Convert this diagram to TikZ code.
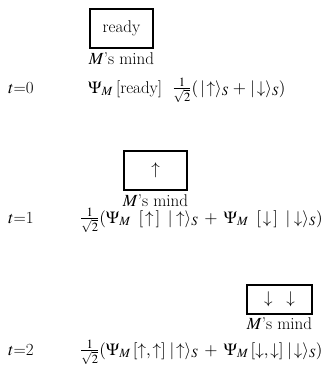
\documentclass[tikz,border=0pt]{standalone}
\usepackage{amsmath}
\usepackage{mathptmx}
\usepackage{tikz}
\usetikzlibrary{positioning}

\begin{document}
\begin{tikzpicture}[x=1pt,y=-1pt,font=\fontsize{17}{20}\selectfont,
    mind/.style={draw,line width=1.5pt,inner sep=0pt},
    mindlabel/.style={inner sep=0pt},
    eqn/.style={anchor=base west,inner sep=0pt}]
  \useasboundingbox (0,0) rectangle (331,386);
  % t=0 : ready
  \node[mind,minimum width=63pt,minimum height=39pt] (box0) at (121.5,28.5) {ready};
  \node[mindlabel,below=4pt of box0] (lbl0) {$M$'s mind};
  \node[eqn] (t0) at (8,93) {$t$=0};
  \node[eqn] (eq0) at (88,93) {$\Psi_M$\,[ready]\ \ $\tfrac{1}{\sqrt{2}}(\,|\,{\uparrow}\rangle_S\,+\,|\,{\downarrow}\rangle_S)$};
  % t=1 : first measurement
  \node[mind,minimum width=63pt,minimum height=39pt] (box1) at (155.5,170.5) {$\uparrow$};
  \node[mindlabel,below=4pt of box1] (lbl1) {$M$'s mind};
  \node[eqn] (t1) at (8,223) {$t$=1};
  \node[eqn] (eq1) at (80,223) {$\tfrac{1}{\sqrt{2}}(\Psi_M\;\;[\,{\uparrow}\,]\;\;|\;{\uparrow}\rangle_S\;+\;\Psi_M\;\;[\,{\downarrow}\,]\;\;|\;{\downarrow}\rangle_S)$};
  % t=2 : repeated measurement
  \node[mind,minimum width=65pt,minimum height=29pt] (box2) at (279.5,299.5) {$\downarrow$\hspace{14pt}$\downarrow$};
  \node[mindlabel,below=3pt of box2] (lbl2) {$M$'s mind};
  \node[eqn] (t2) at (8,355) {$t$=2};
  \node[eqn] (eq2) at (80,355) {$\tfrac{1}{\sqrt{2}}(\Psi_M\,[{\uparrow},{\uparrow}]\;|\,{\uparrow}\rangle_S\;+\;\Psi_M\,[{\downarrow},{\downarrow}]\;|\,{\downarrow}\rangle_S)$};
\end{tikzpicture}
\end{document}
